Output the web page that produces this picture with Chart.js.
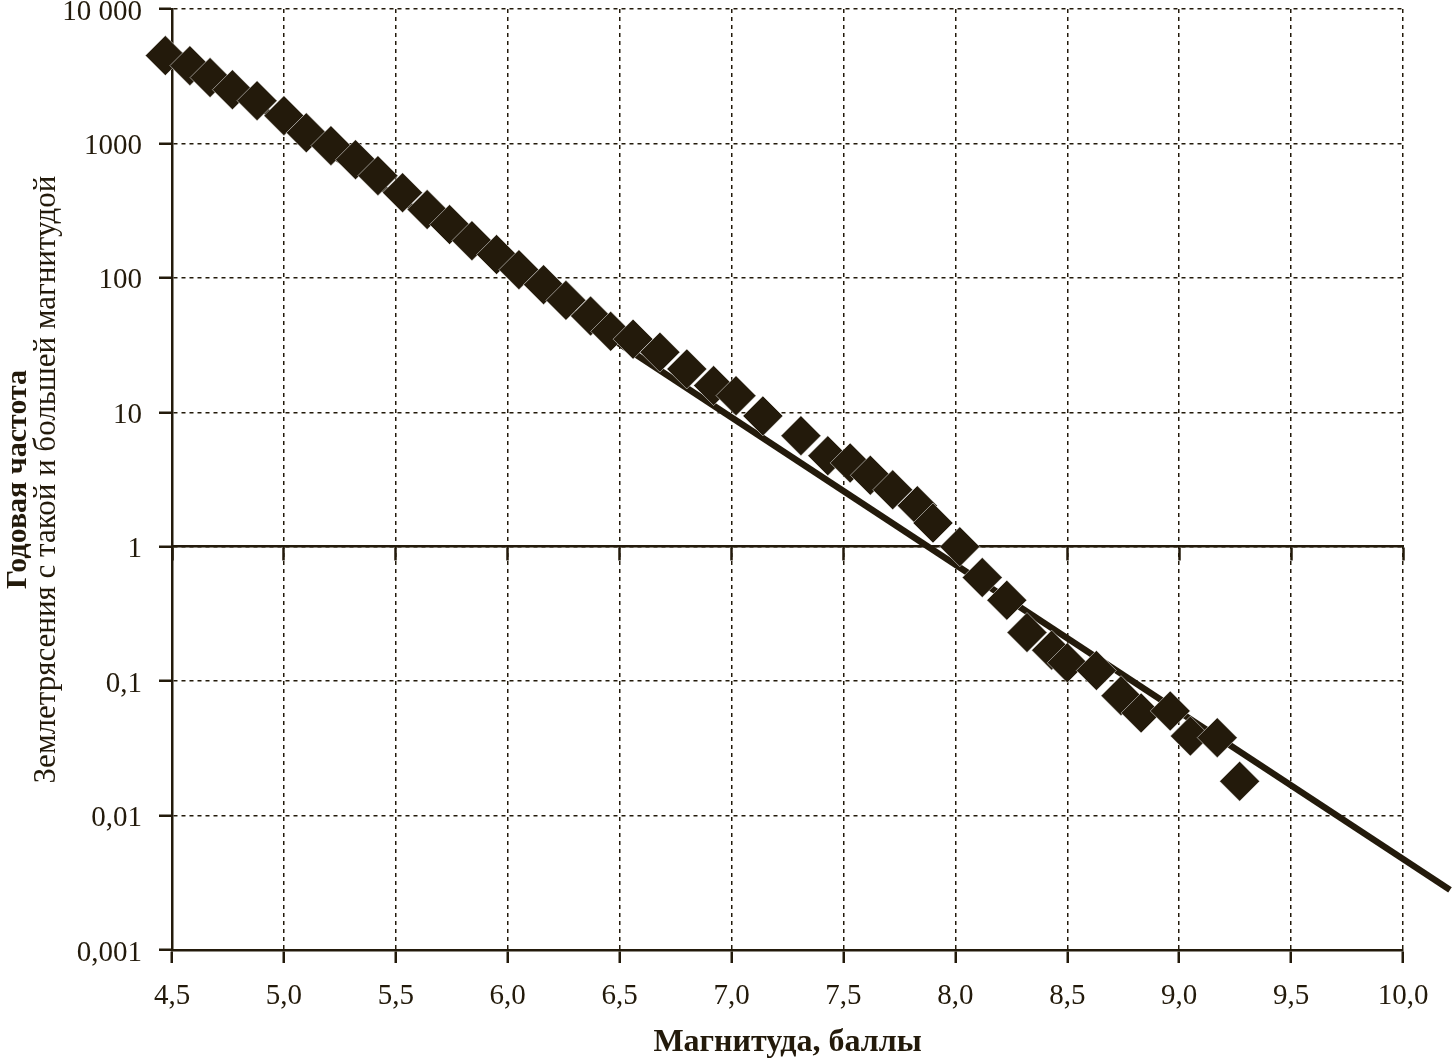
<!DOCTYPE html>
<html lang="ru">
<head>
<meta charset="utf-8">
<title>Годовая частота землетрясений</title>
<script src="https://cdn.jsdelivr.net/npm/chart.js@4.4.1/dist/chart.umd.min.js"></script>
<style>
    html, body { margin: 0; padding: 0; background: #ffffff; }
    #wrap { width: 1453px; height: 1064px; }
</style>
</head>
<body>
<div id="wrap"><canvas id="chart"></canvas></div>
<script>
"use strict";

// магнитуды и годовая частота (точки)
const magnitudes = [4.47, 4.58, 4.67, 4.77, 4.88, 5.00, 5.10, 5.21, 5.32, 5.42,
    5.53, 5.64, 5.74, 5.84, 5.95, 6.05, 6.16, 6.26, 6.37, 6.46,
    6.56, 6.68, 6.80, 6.92, 7.02, 7.14, 7.31, 7.43, 7.53, 7.62,
    7.72, 7.83, 7.90, 8.02, 8.12, 8.23, 8.32, 8.43, 8.50, 8.63,
    8.74, 8.83, 8.96, 9.05, 9.17, 9.27];
const frequencies = [4500, 3790, 3090, 2510, 2080, 1610, 1200, 963, 757, 576,
    430, 322, 249, 189, 149, 115, 89, 68, 52, 40,
    35, 28, 21, 15.8, 13.3, 9.4, 6.7, 4.75, 4.2, 3.4,
    2.65, 2.02, 1.5, 1.0, 0.59, 0.40, 0.23, 0.17, 0.137, 0.12,
    0.078, 0.058, 0.060, 0.039, 0.038, 0.018];

// прямая аппроксимации
const fitMagnitudes = [4.5, 10.21];
const fitFrequencies = [5000, 0.0028];

const yTickValues = [0.001, 0.01, 0.1, 1, 10, 100, 1000, 10000];
const yTickLabels = ["0,001", "0,01", "0,1", "1", "10", "100", "1000", "10 000"];
const xTickLabels = ["4,5", "5,0", "5,5", "6,0", "6,5", "7,0", "7,5", "8,0", "8,5", "9,0", "9,5", "10,0"];

const ink = "#231a0b";

Chart.defaults.font.family = "'Liberation Serif', 'DejaVu Serif', serif";
Chart.defaults.color = ink;

function noPadding(scale) {
    scale.paddingTop = 0;
    scale.paddingBottom = 0;
    scale.paddingLeft = 0;
    scale.paddingRight = 0;
}

const points = magnitudes.map((m, i) => ({ x: m, y: frequencies[i] }));
const fitLine = fitMagnitudes.map((m, i) => ({ x: m, y: fitFrequencies[i] }));

new Chart(document.getElementById("chart"), {
    type: "scatter",
    data: {
        datasets: [{
            label: "Наблюдения",
            data: points,
            pointStyle: "rectRot",
            pointRadius: 20,
            pointHoverRadius: 20,
            backgroundColor: ink,
            borderColor: "#ffffff",
            borderWidth: 0.5,
            clip: false
        }, {
            label: "Аппроксимация",
            data: fitLine,
            showLine: true,
            pointRadius: 0,
            borderColor: ink,
            borderWidth: 6.5,
            clip: false
        }]
    },
    options: {
        responsive: true,
        maintainAspectRatio: false,
        animation: false,
        events: [],
        layout: { autoPadding: false, padding: { top: 9, right: 50, left: 0, bottom: 0 } },
        plugins: {
            legend: { display: false },
            tooltip: { enabled: false }
        },
        scales: {
            x: {
                type: "linear",
                position: "bottom",
                min: 4.5,
                max: 10,
                afterFit: (scale) => { scale.height = 114; noPadding(scale); },
                ticks: {
                    stepSize: 0.5,
                    padding: 16,
                    font: { size: 29 },
                    maxRotation: 0,
                    autoSkip: false,
                    callback: (value, index) => xTickLabels[index]
                },
                grid: {
                    color: ink,
                    lineWidth: 1.5,
                    tickLength: 13,
                    tickColor: ink,
                    tickWidth: 2.5,
                    tickBorderDash: []
                },
                border: { display: true, color: ink, width: 2.5, dash: [4, 4] },
                title: {
                    display: true,
                    text: "Магнитуда, баллы",
                    font: { size: 32, weight: "bold" },
                    padding: { top: 0, bottom: 2 }
                }
            },
            x2: {
                type: "linear",
                position: { y: 1 },
                min: 4.5,
                max: 10,
                afterFit: noPadding,
                ticks: { display: false, stepSize: 0.5 },
                grid: {
                    drawOnChartArea: false,
                    tickLength: 13,
                    tickColor: ink,
                    tickWidth: 2.5
                },
                border: { display: true, color: ink, width: 2.5 }
            },
            y: {
                type: "logarithmic",
                position: "left",
                weight: 0,
                min: 0.001,
                max: 10000,
                afterBuildTicks: (scale) => {
                    scale.ticks = yTickValues.map(v => ({ value: v }));
                },
                afterFit: (scale) => { scale.width = 144; noPadding(scale); },
                ticks: {
                    padding: 17,
                    labelOffset: 3,
                    font: { size: 29 },
                    autoSkip: false,
                    callback: (value, index) => yTickLabels[index]
                },
                grid: {
                    color: ink,
                    lineWidth: 1.5,
                    tickLength: 13,
                    tickColor: ink,
                    tickWidth: 2.5,
                    tickBorderDash: []
                },
                border: { display: true, color: ink, width: 2.5, dash: [4, 4] },
                title: {
                    display: true,
                    text: "Землетрясения с такой и большей магнитудой",
                    font: { size: 31 },
                    padding: { top: 0, bottom: 0 }
                }
            },
            yTitle: {
                type: "linear",
                position: "left",
                weight: 1,
                display: true,
                afterFit: (scale) => { scale.width = 28; noPadding(scale); },
                ticks: { display: false },
                grid: { display: false },
                border: { display: false },
                title: {
                    display: true,
                    text: "Годовая частота",
                    font: { size: 30, weight: "bold" },
                    padding: { top: 0, bottom: 0 }
                }
            }
        }
    }
});
</script>
</body>
</html>
